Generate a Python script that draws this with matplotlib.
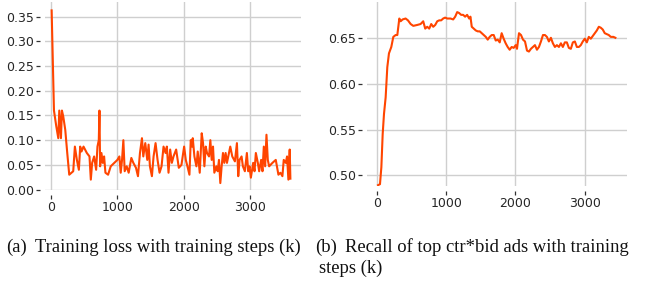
import matplotlib
matplotlib.use("Agg")
import matplotlib.pyplot as plt

# (a) training loss vs training steps (k)
loss_steps = [10, 45, 80, 110, 125, 150, 165, 185, 215, 245, 275, 310, 335, 360, 390, 420, 440, 460,
              490, 540, 580, 600, 620, 650, 680, 700, 720, 730, 740, 760, 780, 800, 820, 860, 900,
              1000, 1030, 1050, 1070, 1090, 1110, 1140, 1170, 1210, 1240, 1280, 1310, 1340, 1370,
              1390, 1420, 1450, 1470, 1490, 1520, 1545, 1575, 1605, 1635, 1665, 1695, 1725, 1745,
              1770, 1795, 1820, 1845, 1885, 1925, 1965, 2005, 2030, 2055, 2085, 2105, 2125, 2135,
              2160, 2190, 2210, 2240, 2270, 2290, 2310, 2330, 2350, 2380, 2400, 2420, 2440, 2460,
              2490, 2510, 2530, 2550, 2570, 2590, 2610, 2630, 2650, 2700, 2730, 2770, 2800, 2820,
              2840, 2870, 2890, 2920, 2950, 2970, 2990, 3010, 3045, 3065, 3085, 3115, 3135, 3165,
              3185, 3205, 3225, 3245, 3265, 3285, 3335, 3385, 3425, 3455, 3485, 3505, 3535, 3555,
              3575, 3595, 3605]
loss_values = [0.363, 0.160, 0.128, 0.104, 0.160, 0.104, 0.160, 0.148, 0.121, 0.074, 0.030, 0.034,
               0.037, 0.087, 0.060, 0.040, 0.087, 0.077, 0.087, 0.074, 0.067, 0.020, 0.054, 0.067,
               0.040, 0.087, 0.100, 0.160, 0.047, 0.074, 0.054, 0.067, 0.034, 0.030, 0.047,
               0.060, 0.067, 0.034, 0.060, 0.100, 0.037, 0.047, 0.034, 0.064, 0.054, 0.044, 0.027,
               0.074, 0.104, 0.067, 0.094, 0.060, 0.091, 0.047, 0.027, 0.067, 0.094, 0.060, 0.034,
               0.047, 0.087, 0.074, 0.087, 0.034, 0.081, 0.054, 0.067, 0.081, 0.044, 0.050, 0.087,
               0.060, 0.047, 0.030, 0.100, 0.087, 0.104, 0.067, 0.047, 0.077, 0.034, 0.114, 0.094,
               0.047, 0.087, 0.074, 0.067, 0.100, 0.060, 0.087, 0.034, 0.047, 0.037, 0.060, 0.013,
               0.047, 0.074, 0.054, 0.074, 0.054, 0.087, 0.067, 0.057, 0.094, 0.027, 0.060, 0.067,
               0.047, 0.037, 0.074, 0.037, 0.047, 0.024, 0.054, 0.037, 0.074, 0.054, 0.037, 0.060,
               0.037, 0.087, 0.047, 0.111, 0.060, 0.047, 0.054, 0.060, 0.030, 0.034, 0.027, 0.060,
               0.054, 0.067, 0.020, 0.081, 0.022]

# (b) recall of top ctr*bid ads vs training steps (k)
recall_steps = [10, 38, 58, 77, 96, 120, 144, 168, 202, 231, 265, 289, 318, 337, 366, 409, 443, 482,
                520, 578, 626, 664, 693, 722, 751, 780, 809, 838, 867, 896, 924, 953, 982, 1011,
                1059, 1098, 1127, 1156, 1184, 1213, 1242, 1271, 1300, 1329, 1348, 1367, 1396, 1425,
                1454, 1483, 1512, 1541, 1570, 1598, 1627, 1656, 1685, 1714, 1743, 1772, 1800, 1829,
                1858, 1887, 1916, 1945, 1974, 2003, 2022, 2051, 2080, 2109, 2138, 2167, 2195, 2224,
                2253, 2282, 2311, 2340, 2369, 2398, 2427, 2455, 2484, 2513, 2542, 2571, 2600, 2629,
                2658, 2686, 2715, 2744, 2773, 2802, 2831, 2860, 2889, 2918, 2946, 2975, 3004, 3033,
                3062, 3091, 3120, 3149, 3178, 3207, 3235, 3264, 3293, 3322, 3351, 3380, 3418, 3447]
recall_values = [0.4894, 0.4905, 0.509, 0.545, 0.567, 0.585, 0.618, 0.633, 0.640, 0.651, 0.653,
                 0.653, 0.671, 0.668, 0.670, 0.671, 0.669, 0.665, 0.663, 0.664, 0.665, 0.668, 0.660,
                 0.662, 0.660, 0.665, 0.662, 0.664, 0.668, 0.669, 0.669, 0.671, 0.672, 0.671, 0.671,
                 0.670, 0.673, 0.678, 0.677, 0.675, 0.675, 0.673, 0.675, 0.671, 0.673, 0.662, 0.660,
                 0.658, 0.657, 0.657, 0.655, 0.653, 0.651, 0.648, 0.651, 0.653, 0.653, 0.647, 0.648,
                 0.645, 0.655, 0.649, 0.644, 0.640, 0.637, 0.640, 0.639, 0.642, 0.638, 0.655, 0.653,
                 0.648, 0.646, 0.636, 0.635, 0.638, 0.640, 0.642, 0.637, 0.640, 0.646, 0.653, 0.653,
                 0.651, 0.646, 0.650, 0.644, 0.640, 0.642, 0.640, 0.644, 0.640, 0.645, 0.645, 0.639,
                 0.638, 0.645, 0.646, 0.640, 0.640, 0.642, 0.646, 0.649, 0.645, 0.651, 0.649, 0.652,
                 0.655, 0.658, 0.662, 0.661, 0.659, 0.655, 0.654, 0.653, 0.651, 0.651, 0.650]

x_ticks = [0, 1000, 2000, 3000]
loss_yticks = [0.00, 0.05, 0.10, 0.15, 0.20, 0.25, 0.30, 0.35]
recall_yticks = [0.50, 0.55, 0.60, 0.65]

line_color = "#ff4500"
W, H = 645, 283

fig = plt.figure(figsize=(6.45, 2.83), dpi=100)
ax1 = fig.add_axes([45 / W, 1 - 190 / H, 256 / W, 188 / H])
ax2 = fig.add_axes([367 / W, 1 - 186 / H, 260 / W, 184 / H])


def style(ax):
    ax.grid(True, color="#cfcfcf", linewidth=1.0)
    ax.set_axisbelow(True)
    for s in ax.spines.values():
        s.set_visible(False)
    ax.spines["left"].set_position(("outward", 3.6))
    ax.spines["bottom"].set_position(("outward", 3.6))
    ax.tick_params(axis="both", length=2.8, width=0.9, color="#333333",
                   labelcolor="#262626", labelsize=9, pad=1.5)


ax1.plot(loss_steps, loss_values, color=line_color, linewidth=1.5)
ax1.set_xticks(x_ticks)
ax1.set_yticks(loss_yticks)
ax1.set_yticklabels([f"{v:.2f}" for v in loss_yticks])
ax1.set_xlim(-90, 3765)
ax1.set_ylim(-0.001, 0.38)
style(ax1)

ax2.plot(recall_steps, recall_values, color=line_color, linewidth=1.5)
ax2.set_xticks(x_ticks)
ax2.set_yticks(recall_yticks)
ax2.set_yticklabels([f"{v:.2f}" for v in recall_yticks])
ax2.set_xlim(-150, 3615)
ax2.set_ylim(0.4885, 0.689)
style(ax2)

cap = dict(family="Liberation Serif", fontsize=13.4, color="#111111", va="center")
y1 = 1 - 247 / H
y2 = 1 - 268 / H
fig.text(6 / W, y1, "(a)", **cap)
fig.text(35 / W, y1, "Training loss with training steps (k)", **cap)
fig.text(315 / W, y1, "(b)", **cap)
fig.text(345 / W, y1, "Recall of top ctr*bid ads with training", **cap)
fig.text(319 / W, y2, "steps (k)", **cap)

fig.savefig("out.png", dpi=100)
